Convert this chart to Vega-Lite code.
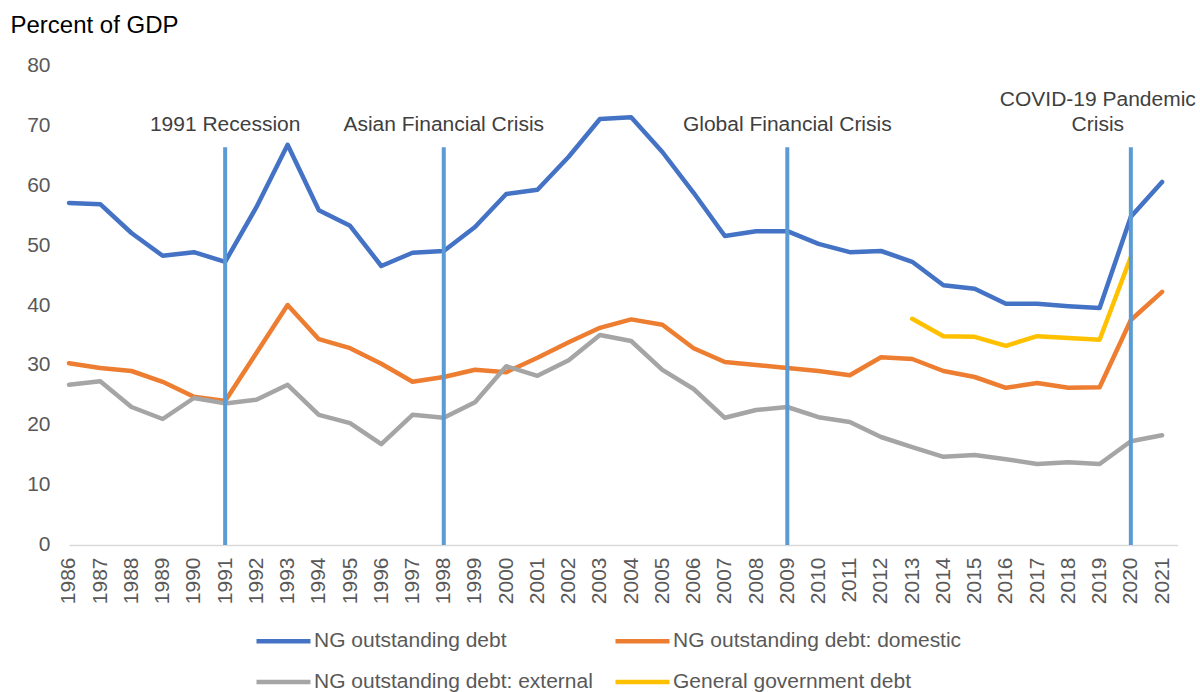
{
  "$schema": "https://vega.github.io/schema/vega-lite/v6.json",
  "width": 1108.7,
  "height": 480,
  "autosize": {"type": "none"},
  "padding": {"left": 69, "top": 65, "right": 22, "bottom": 147},
  "background": "white",
  "config": {
    "view": {"stroke": null},
    "font": "Liberation Sans",
    "axis": {"grid": false, "labelFont": "Liberation Sans", "labelColor": "#595959", "labelFontSize": 21}
  },
  "datasets": {
    "debt": [
      {"year": 1986, "series": "NG outstanding debt", "value": 57.0},
      {"year": 1987, "series": "NG outstanding debt", "value": 56.8},
      {"year": 1988, "series": "NG outstanding debt", "value": 52.0},
      {"year": 1989, "series": "NG outstanding debt", "value": 48.2},
      {"year": 1990, "series": "NG outstanding debt", "value": 48.8},
      {"year": 1991, "series": "NG outstanding debt", "value": 47.2},
      {"year": 1992, "series": "NG outstanding debt", "value": 56.3},
      {"year": 1993, "series": "NG outstanding debt", "value": 66.7},
      {"year": 1994, "series": "NG outstanding debt", "value": 55.8},
      {"year": 1995, "series": "NG outstanding debt", "value": 53.2},
      {"year": 1996, "series": "NG outstanding debt", "value": 46.5},
      {"year": 1997, "series": "NG outstanding debt", "value": 48.7},
      {"year": 1998, "series": "NG outstanding debt", "value": 49.0},
      {"year": 1999, "series": "NG outstanding debt", "value": 53.0},
      {"year": 2000, "series": "NG outstanding debt", "value": 58.5},
      {"year": 2001, "series": "NG outstanding debt", "value": 59.2},
      {"year": 2002, "series": "NG outstanding debt", "value": 64.7},
      {"year": 2003, "series": "NG outstanding debt", "value": 71.0},
      {"year": 2004, "series": "NG outstanding debt", "value": 71.3},
      {"year": 2005, "series": "NG outstanding debt", "value": 65.5},
      {"year": 2006, "series": "NG outstanding debt", "value": 58.7},
      {"year": 2007, "series": "NG outstanding debt", "value": 51.5},
      {"year": 2008, "series": "NG outstanding debt", "value": 52.3},
      {"year": 2009, "series": "NG outstanding debt", "value": 52.3},
      {"year": 2010, "series": "NG outstanding debt", "value": 50.2},
      {"year": 2011, "series": "NG outstanding debt", "value": 48.8},
      {"year": 2012, "series": "NG outstanding debt", "value": 49.0},
      {"year": 2013, "series": "NG outstanding debt", "value": 47.2},
      {"year": 2014, "series": "NG outstanding debt", "value": 43.3},
      {"year": 2015, "series": "NG outstanding debt", "value": 42.7},
      {"year": 2016, "series": "NG outstanding debt", "value": 40.2},
      {"year": 2017, "series": "NG outstanding debt", "value": 40.2},
      {"year": 2018, "series": "NG outstanding debt", "value": 39.8},
      {"year": 2019, "series": "NG outstanding debt", "value": 39.5},
      {"year": 2020, "series": "NG outstanding debt", "value": 54.7},
      {"year": 2021, "series": "NG outstanding debt", "value": 60.5},

      {"year": 1986, "series": "NG outstanding debt: domestic", "value": 30.3},
      {"year": 1987, "series": "NG outstanding debt: domestic", "value": 29.5},
      {"year": 1988, "series": "NG outstanding debt: domestic", "value": 29.0},
      {"year": 1989, "series": "NG outstanding debt: domestic", "value": 27.2},
      {"year": 1990, "series": "NG outstanding debt: domestic", "value": 24.7},
      {"year": 1991, "series": "NG outstanding debt: domestic", "value": 24.0},
      {"year": 1992, "series": "NG outstanding debt: domestic", "value": 32.0},
      {"year": 1993, "series": "NG outstanding debt: domestic", "value": 40.0},
      {"year": 1994, "series": "NG outstanding debt: domestic", "value": 34.3},
      {"year": 1995, "series": "NG outstanding debt: domestic", "value": 32.8},
      {"year": 1996, "series": "NG outstanding debt: domestic", "value": 30.2},
      {"year": 1997, "series": "NG outstanding debt: domestic", "value": 27.2},
      {"year": 1998, "series": "NG outstanding debt: domestic", "value": 28.0},
      {"year": 1999, "series": "NG outstanding debt: domestic", "value": 29.2},
      {"year": 2000, "series": "NG outstanding debt: domestic", "value": 28.8},
      {"year": 2001, "series": "NG outstanding debt: domestic", "value": 31.2},
      {"year": 2002, "series": "NG outstanding debt: domestic", "value": 33.8},
      {"year": 2003, "series": "NG outstanding debt: domestic", "value": 36.2},
      {"year": 2004, "series": "NG outstanding debt: domestic", "value": 37.6},
      {"year": 2005, "series": "NG outstanding debt: domestic", "value": 36.7},
      {"year": 2006, "series": "NG outstanding debt: domestic", "value": 32.8},
      {"year": 2007, "series": "NG outstanding debt: domestic", "value": 30.5},
      {"year": 2008, "series": "NG outstanding debt: domestic", "value": 30.0},
      {"year": 2009, "series": "NG outstanding debt: domestic", "value": 29.5},
      {"year": 2010, "series": "NG outstanding debt: domestic", "value": 29.0},
      {"year": 2011, "series": "NG outstanding debt: domestic", "value": 28.3},
      {"year": 2012, "series": "NG outstanding debt: domestic", "value": 31.3},
      {"year": 2013, "series": "NG outstanding debt: domestic", "value": 31.0},
      {"year": 2014, "series": "NG outstanding debt: domestic", "value": 29.0},
      {"year": 2015, "series": "NG outstanding debt: domestic", "value": 28.0},
      {"year": 2016, "series": "NG outstanding debt: domestic", "value": 26.2},
      {"year": 2017, "series": "NG outstanding debt: domestic", "value": 27.0},
      {"year": 2018, "series": "NG outstanding debt: domestic", "value": 26.2},
      {"year": 2019, "series": "NG outstanding debt: domestic", "value": 26.3},
      {"year": 2020, "series": "NG outstanding debt: domestic", "value": 37.5},
      {"year": 2021, "series": "NG outstanding debt: domestic", "value": 42.2},

      {"year": 1986, "series": "NG outstanding debt: external", "value": 26.7},
      {"year": 1987, "series": "NG outstanding debt: external", "value": 27.3},
      {"year": 1988, "series": "NG outstanding debt: external", "value": 23.0},
      {"year": 1989, "series": "NG outstanding debt: external", "value": 21.0},
      {"year": 1990, "series": "NG outstanding debt: external", "value": 24.5},
      {"year": 1991, "series": "NG outstanding debt: external", "value": 23.6},
      {"year": 1992, "series": "NG outstanding debt: external", "value": 24.2},
      {"year": 1993, "series": "NG outstanding debt: external", "value": 26.7},
      {"year": 1994, "series": "NG outstanding debt: external", "value": 21.7},
      {"year": 1995, "series": "NG outstanding debt: external", "value": 20.3},
      {"year": 1996, "series": "NG outstanding debt: external", "value": 16.8},
      {"year": 1997, "series": "NG outstanding debt: external", "value": 21.7},
      {"year": 1998, "series": "NG outstanding debt: external", "value": 21.2},
      {"year": 1999, "series": "NG outstanding debt: external", "value": 23.8},
      {"year": 2000, "series": "NG outstanding debt: external", "value": 29.8},
      {"year": 2001, "series": "NG outstanding debt: external", "value": 28.2},
      {"year": 2002, "series": "NG outstanding debt: external", "value": 30.8},
      {"year": 2003, "series": "NG outstanding debt: external", "value": 35.0},
      {"year": 2004, "series": "NG outstanding debt: external", "value": 34.0},
      {"year": 2005, "series": "NG outstanding debt: external", "value": 29.2},
      {"year": 2006, "series": "NG outstanding debt: external", "value": 26.0},
      {"year": 2007, "series": "NG outstanding debt: external", "value": 21.2},
      {"year": 2008, "series": "NG outstanding debt: external", "value": 22.5},
      {"year": 2009, "series": "NG outstanding debt: external", "value": 23.0},
      {"year": 2010, "series": "NG outstanding debt: external", "value": 21.3},
      {"year": 2011, "series": "NG outstanding debt: external", "value": 20.5},
      {"year": 2012, "series": "NG outstanding debt: external", "value": 18.0},
      {"year": 2013, "series": "NG outstanding debt: external", "value": 16.3},
      {"year": 2014, "series": "NG outstanding debt: external", "value": 14.7},
      {"year": 2015, "series": "NG outstanding debt: external", "value": 15.0},
      {"year": 2016, "series": "NG outstanding debt: external", "value": 14.3},
      {"year": 2017, "series": "NG outstanding debt: external", "value": 13.5},
      {"year": 2018, "series": "NG outstanding debt: external", "value": 13.8},
      {"year": 2019, "series": "NG outstanding debt: external", "value": 13.5},
      {"year": 2020, "series": "NG outstanding debt: external", "value": 17.3},
      {"year": 2021, "series": "NG outstanding debt: external", "value": 18.3},

      {"year": 2013, "series": "General government debt", "value": 37.7},
      {"year": 2014, "series": "General government debt", "value": 34.8},
      {"year": 2015, "series": "General government debt", "value": 34.7},
      {"year": 2016, "series": "General government debt", "value": 33.2},
      {"year": 2017, "series": "General government debt", "value": 34.8},
      {"year": 2018, "series": "General government debt", "value": 34.5},
      {"year": 2019, "series": "General government debt", "value": 34.2},
      {"year": 2020, "series": "General government debt", "value": 48.0}
    ],
    "events": [
      {"year": 1991, "label": "1991 Recession"},
      {"year": 1998, "label": "Asian Financial Crisis"},
      {"year": 2009, "label": "Global Financial Crisis"},
      {"year": 2020, "label": "COVID-19 Pandemic\nCrisis"}
    ]
  },
  "encoding": {
    "x": {
      "field": "year", "type": "quantitative",
      "scale": {"domain": [1986, 2021.5], "nice": false, "zero": false},
      "axis": {
        "title": null,
        "values": [1986,1987,1988,1989,1990,1991,1992,1993,1994,1995,1996,1997,1998,1999,2000,2001,2002,2003,2004,2005,2006,2007,2008,2009,2010,2011,2012,2013,2014,2015,2016,2017,2018,2019,2020,2021],
        "format": "d",
        "labelAngle": -90,
        "labelPadding": 12,
        "ticks": false,
        "tickSize": 0,
        "labelOverlap": false,
        "labelFlush": false,
        "labelBound": false,
        "domainColor": "#D9D9D9",
        "domainWidth": 1.5
      }
    }
  },
  "layer": [
    {
      "data": {"name": "debt"},
      "mark": {"type": "line", "strokeWidth": 4.5, "strokeCap": "round", "strokeJoin": "round"},
      "encoding": {
        "y": {
          "field": "value", "type": "quantitative",
          "scale": {"domain": [0, 80], "nice": false},
          "axis": {
            "values": [0, 10, 20, 30, 40, 50, 60, 70, 80],
            "domain": false,
            "ticks": false,
            "tickSize": 0,
            "labelPadding": 19,
            "title": "Percent of GDP",
            "titleAngle": 0,
            "titleAlign": "left",
            "titleBaseline": "alphabetic",
            "titleX": -59,
            "titleY": -33,
            "titleFontSize": 24,
            "titleFontWeight": "normal",
            "titleColor": "#000000",
            "titleFont": "Liberation Sans"
          }
        },
        "color": {
          "field": "series", "type": "nominal",
          "scale": {
            "domain": ["NG outstanding debt", "NG outstanding debt: domestic", "NG outstanding debt: external", "General government debt"],
            "range": ["#4472C4", "#ED7D31", "#A5A5A5", "#FFC000"]
          },
          "legend": {
            "orient": "none",
            "legendX": 204,
            "legendY": 565.5,
            "title": null,
            "columns": 2,
            "direction": "horizontal",
            "columnPadding": 12,
            "rowPadding": 19,
            "padding": 0,
            "symbolType": "M-5.4,0H5.4",
            "symbolSize": 100,
            "symbolStrokeWidth": 4.5,
            "labelOffset": 20,
            "labelFontSize": 21,
            "labelFont": "Liberation Sans",
            "labelColor": "#595959",
            "labelLimit": 400
          }
        }
      }
    },
    {
      "data": {"name": "events"},
      "mark": {"type": "rule", "color": "#5B9BD5", "strokeWidth": 4},
      "encoding": {
        "y": {"datum": 0},
        "y2": {"datum": 66.3}
      }
    },
    {
      "data": {"name": "events"},
      "transform": [{"filter": "datum.year != 2020"}],
      "mark": {"type": "text", "align": "center", "baseline": "bottom", "fontSize": 21, "font": "Liberation Sans", "color": "#404040"},
      "encoding": {
        "y": {"datum": 68.3},
        "text": {"field": "label"}
      }
    },
    {
      "data": {"name": "events"},
      "transform": [{"filter": "datum.year == 2020"}],
      "mark": {"type": "text", "align": "center", "baseline": "bottom", "fontSize": 21, "font": "Liberation Sans", "color": "#404040", "dx": -33, "lineBreak": "\n", "lineHeight": 25},
      "encoding": {
        "y": {"datum": 72.5},
        "text": {"field": "label"}
      }
    }
  ]
}
